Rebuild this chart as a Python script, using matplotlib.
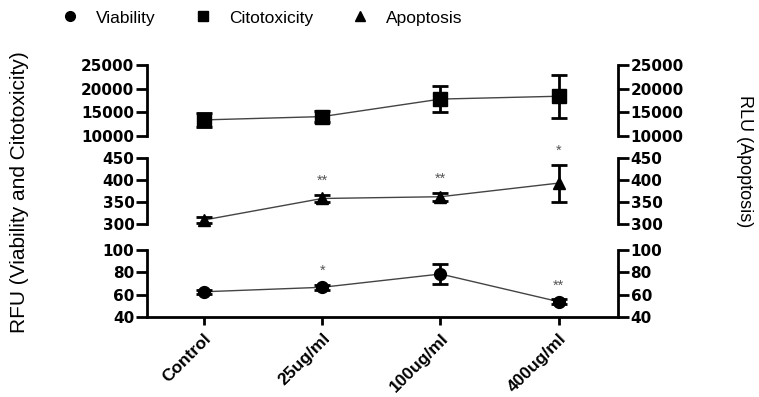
import numpy as np
import matplotlib.pyplot as plt
from matplotlib.lines import Line2D

plt.rcParams['font.family'] = ['Liberation Sans', 'DejaVu Sans']

groups = ['Control', '25ug/ml', '100ug/ml', '400ug/ml']

# Citotoxicity (RFU)
citotox = [13400, 14100, 17800, 18400]
citotox_err = [1500, 1200, 2800, 4500]

# Apoptosis (RLU)
apoptosis = [309, 358, 362, 393]
apoptosis_err = [6, 9, 9, 42]
apop_stars = ['', '**', '**', '*']

# Viability (RFU)
viability = [62.6, 66.6, 78.5, 53.7]
viability_err = [2, 2, 9, 2]
viab_stars = ['', '*', '', '**']

W, H = 759, 397
fig = plt.figure(figsize=(W / 100, H / 100), dpi=100)

left = 147 / W
width = (618 - 147) / W


def panel(top_px, bot_px):
    return fig.add_axes([left, (H - bot_px) / H, width, (bot_px - top_px) / H])


ax_top = panel(65, 136)
ax_mid = panel(158, 224)
ax_bot = panel(250, 317)

x = np.arange(len(groups))
tick_font = dict(family='DejaVu Sans', weight='bold', size=11)

specs = [
    (ax_top, citotox, citotox_err, 's', 9.5, (10000, 25000), [10000, 15000, 20000, 25000], None),
    (ax_mid, apoptosis, apoptosis_err, '^', 9, (300, 450), [300, 350, 400, 450], apop_stars),
    (ax_bot, viability, viability_err, 'o', 8.5, (40, 100), [40, 60, 80, 100], viab_stars),
]

for ax, vals, errs, mk, ms, lim, ticks, stars in specs:
    ax.plot(x, vals, color='#444444', lw=1, zorder=2, clip_on=False)
    ax.errorbar(x, vals, yerr=errs, fmt=mk, color='black', ms=ms,
                elinewidth=2, capsize=6, capthick=2, zorder=3, clip_on=False)
    ax.set_ylim(*lim)
    ax.set_xlim(-0.48, 3.5)
    ax.set_yticks(ticks)
    ax.set_yticklabels([str(t) for t in ticks], fontdict=tick_font)
    ax.tick_params(axis='y', left=True, right=True, labelleft=True, labelright=True,
                   direction='out', length=8, width=2, pad=1)
    for s in ['left', 'right']:
        ax.spines[s].set_linewidth(2)
    ax.spines['top'].set_visible(False)
    ax.patch.set_alpha(0)
    if stars:
        for xi, v, e, st in zip(x, vals, errs, stars):
            if st:
                ax.annotate(st, (xi, v + e), xytext=(0, 10), textcoords='offset points',
                            ha='center', va='center', fontsize=10.5, color='#555555')

for ax in (ax_top, ax_mid):
    ax.spines['bottom'].set_visible(False)
    ax.set_xticks([])

ax_bot.spines['bottom'].set_linewidth(2)
ax_bot.set_xticks(x)
ax_bot.set_xticklabels(groups, rotation=45, ha='right', rotation_mode='anchor',
                       fontsize=12.5, fontweight='bold')
ax_bot.tick_params(axis='x', direction='out', length=6, width=2, pad=4)

fig.text(20 / W, 1 - 192 / H, 'RFU (Viability and Citotoxicity)', rotation=90,
         ha='center', va='center', fontsize=15)
fig.text(745 / W, 1 - 161 / H, 'RLU (Apoptosis)', rotation=-90,
         ha='center', va='center', fontsize=13)

handles = [Line2D([], [], marker='o', ls='none', color='black', ms=7),
           Line2D([], [], marker='s', ls='none', color='black', ms=7),
           Line2D([], [], marker='^', ls='none', color='black', ms=7)]
fig.legend(handles, ['Viability', 'Citotoxicity', 'Apoptosis'], loc='center',
           bbox_to_anchor=(0.345, 1 - 18 / H), ncol=3, frameon=False, fontsize=12.5,
           handlelength=1, handletextpad=1.0, columnspacing=2.2)

fig.savefig('out.png', dpi=100)
